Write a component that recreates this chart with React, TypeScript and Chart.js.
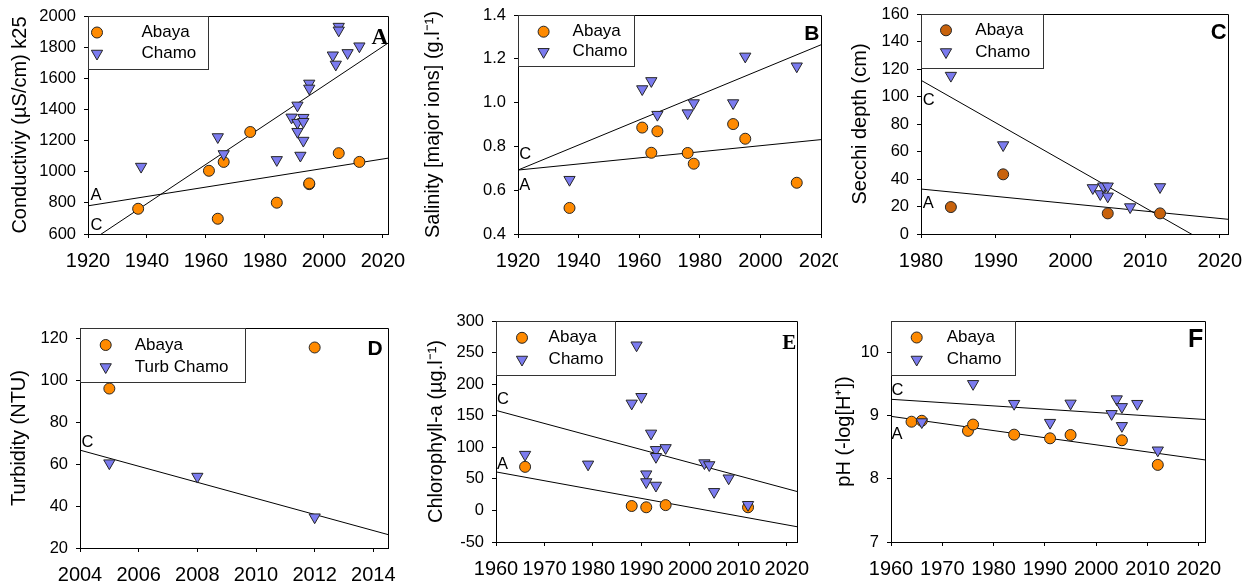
import React, { useEffect, useRef } from "react";
import { Chart, registerables } from "chart.js";

Chart.register(...registerables);

const SANS = "'Liberation Sans', Arial, Helvetica, sans-serif";
const SERIF = "'Liberation Serif', 'Times New Roman', Times, serif";
const ORANGE = "#ff8a00";
const BROWN = "#c8620c";
const LILAC = "#7b7bef";
const EDGE = "#262626";

// ---------------- data ----------------
// A: conductivity
const condAbayaYears = [1937, 1961, 1964, 1966, 1975, 1984, 1995, 1995, 2005, 2012];
const condAbayaValues = [762, 1006, 698, 1063, 1255, 801, 920, 925, 1119, 1063];
const condChamoYears = [1938, 1964, 1966, 1984, 1989, 1991, 1991, 1991, 1992, 1993, 1993, 1993, 1995, 1995, 2003, 2004, 2005, 2005, 2008, 2012];
const condChamoValues = [1033, 1223, 1114, 1076, 1349, 1426, 1315, 1257, 1104, 1347, 1321, 1200, 1567, 1535, 1748, 1689, 1932, 1908, 1763, 1806];
const condTrendAbaya = [[1920, 781], [2021.7, 1087]];
const condTrendChamo = [[1920, 543], [2021.7, 1826]];

// B: salinity
const salAbayaYears = [1937, 1961, 1964, 1966, 1976, 1978, 1991, 1995, 2012];
const salAbayaValues = [0.519, 0.886, 0.771, 0.869, 0.77, 0.721, 0.902, 0.835, 0.634];
const salChamoYears = [1937, 1961, 1964, 1966, 1976, 1978, 1991, 1995, 2012];
const salChamoValues = [0.648, 1.062, 1.099, 0.945, 0.952, 0.998, 0.998, 1.211, 1.166];
const salTrendAbaya = [[1920, 0.692], [2020, 0.831]];
const salTrendChamo = [[1920, 0.692], [2020, 1.264]];

// C: Secchi depth
const secchiAbayaYears = [1984, 1991, 2005, 2012];
const secchiAbayaValues = [19.6, 43.4, 15, 15];
const secchiChamoYears = [1984, 1991, 2003, 2004, 2004.4, 2005, 2005, 2008, 2012];
const secchiChamoValues = [115.2, 64.7, 33.5, 29.1, 34.7, 34.7, 27.4, 19.6, 34.2];
const secchiTrendAbaya = [[1980, 32.7], [2021.1, 10.7]];
const secchiTrendChamo = [[1980, 111.8], [2021.1, -15.2]];

// D: turbidity
const turbAbayaYears = [2005, 2012];
const turbAbayaValues = [96.1, 115.7];
const turbChamoYears = [2005, 2008, 2012];
const turbChamoValues = [60.5, 54.1, 34.7];
const turbTrendChamo = [[2004, 66.7], [2014.5, 26.4]];

// E: chlorophyll-a
const chlAbayaYears = [1966, 1988, 1991, 1995, 2012];
const chlAbayaValues = [69, 7, 5, 8.4, 5];
const chlChamoYears = [1966, 1979, 1988, 1989, 1990, 1991, 1991, 1992, 1993, 1993, 1993, 1995, 2003, 2004, 2005, 2008, 2012];
const chlChamoValues = [88.4, 73, 169.5, 261.6, 180, 57.4, 45, 122, 96, 85, 39.5, 99, 75, 72, 29.5, 51, 9];
const chlTrendAbaya = [[1960, 61], [2022.1, -25.8]];
const chlTrendChamo = [[1960, 158.4], [2022.1, 30]];

// F: pH
const phAbayaYears = [1964, 1966, 1975, 1976, 1984, 1991, 1995, 2005, 2012];
const phAbayaValues = [8.905, 8.92, 8.76, 8.86, 8.7, 8.642, 8.695, 8.611, 8.221];
const phChamoYears = [1966, 1976, 1984, 1991, 1995, 2003, 2004, 2005, 2005, 2008, 2012];
const phChamoValues = [8.9, 9.505, 9.19, 8.89, 9.195, 9.03, 9.263, 9.14, 8.84, 9.19, 8.453];
const phTrendAbaya = [[1960, 8.99], [2021.2, 8.3]];
const phTrendChamo = [[1960, 9.26], [2021.2, 8.94]];

// ---------------- helpers ----------------
type XY = { x: number; y: number };
const toPts = (xs: number[], ys: number[]): XY[] => xs.map((x, i) => ({ x, y: ys[i] }));
const toLine = (seg: number[][]): XY[] => seg.map(([x, y]) => ({ x, y }));

interface LegendSpec { w: number; h: number; markerDx: number; textDx: number; row1: number; row2: number; labels: [string, string] }
interface LetterSpec { text: string; serif: boolean; size: number; dxRight: number; baseline: number }
interface TagSpec { text: string; dx: number; baseline: number }
interface PanelSpec {
  canvas: [number, number, number, number];
  plot: [number, number, number, number];
  xRange: [number, number, number];
  yRange: [number, number, number];
  yDecimals: number;
  yTitle: string;
  titleCenter: number;
  abaya: XY[];
  chamo: XY[];
  trends: XY[][];
  abayaColor: string;
  legend: LegendSpec;
  letter: LetterSpec;
  tags: TagSpec[];
  bg?: string;
}

const PANELS: PanelSpec[] = [
  {
    canvas: [0, 0, 410, 290], plot: [88, 16, 388, 234],
    xRange: [1920, 2021.7, 20], yRange: [600, 2000, 200], yDecimals: 0,
    yTitle: "Conductiviy (µS/cm) k25", titleCenter: 20,
    abaya: toPts(condAbayaYears, condAbayaValues), chamo: toPts(condChamoYears, condChamoValues),
    trends: [toLine(condTrendAbaya), toLine(condTrendChamo)], abayaColor: ORANGE,
    legend: { w: 120, h: 53, markerDx: 9, textDx: 53.5, row1: 16.5, row2: 37.5, labels: ["Abaya", "Chamo"] },
    letter: { text: "A", serif: true, size: 23, dxRight: 0, baseline: 27.6 },
    tags: [{ text: "A", dx: 2.4, baseline: 184 }, { text: "C", dx: 2.4, baseline: 214 }],
  },
  {
    canvas: [400, 0, 438, 290], plot: [518, 15, 821, 234],
    xRange: [1920, 2020, 20], yRange: [0.4, 1.4, 0.2], yDecimals: 1,
    yTitle: "Salinity [major ions] (g.l⁻¹)", titleCenter: 433,
    abaya: toPts(salAbayaYears, salAbayaValues), chamo: toPts(salChamoYears, salChamoValues),
    trends: [toLine(salTrendAbaya), toLine(salTrendChamo)], abayaColor: ORANGE,
    legend: { w: 115.6, h: 51.4, markerDx: 25.6, textDx: 54.6, row1: 16.7, row2: 36.8, labels: ["Abaya", "Chamo"] },
    letter: { text: "B", serif: false, size: 21, dxRight: 1.7, baseline: 24.7 },
    tags: [{ text: "C", dx: 1.3, baseline: 144.3 }, { text: "A", dx: 1.3, baseline: 175 }],
  },
  {
    canvas: [838, 0, 418, 290], plot: [921, 14, 1228, 234],
    xRange: [1980, 2021.1, 10], yRange: [0, 160, 20], yDecimals: 0,
    yTitle: "Secchi depth (cm)", titleCenter: 860,
    abaya: toPts(secchiAbayaYears, secchiAbayaValues), chamo: toPts(secchiChamoYears, secchiChamoValues),
    trends: [toLine(secchiTrendAbaya), toLine(secchiTrendChamo)], abayaColor: BROWN,
    legend: { w: 121.7, h: 54, markerDx: 25, textDx: 54.3, row1: 16.3, row2: 38, labels: ["Abaya", "Chamo"] },
    letter: { text: "C", serif: false, size: 22, dxRight: 1.3, baseline: 25 },
    tags: [{ text: "C", dx: 1.7, baseline: 91 }, { text: "A", dx: 1.7, baseline: 194 }],
    bg: "#ffffff",
  },
  {
    canvas: [0, 290, 410, 293], plot: [80, 328, 388, 548],
    xRange: [2004, 2014.5, 2], yRange: [20, 125, 20], yDecimals: 0,
    yTitle: "Turbidity (NTU)", titleCenter: 19.5,
    abaya: toPts(turbAbayaYears, turbAbayaValues), chamo: toPts(turbChamoYears, turbChamoValues),
    trends: [toLine(turbTrendChamo)], abayaColor: ORANGE,
    legend: { w: 164.7, h: 53.7, markerDx: 25.7, textDx: 54.7, row1: 17, row2: 39, labels: ["Abaya", "Turb Chamo"] },
    letter: { text: "D", serif: false, size: 21, dxRight: 5.3, baseline: 26.7 },
    tags: [{ text: "C", dx: 1.4, baseline: 118.7 }],
  },
  {
    canvas: [400, 290, 430, 293], plot: [496, 321, 797, 542],
    xRange: [1960, 2022.1, 10], yRange: [-50, 300, 50], yDecimals: 0,
    yTitle: "Chlorophyll-a (µg.l⁻¹)", titleCenter: 436.5,
    abaya: toPts(chlAbayaYears, chlAbayaValues), chamo: toPts(chlChamoYears, chlChamoValues),
    trends: [toLine(chlTrendAbaya), toLine(chlTrendChamo)], abayaColor: ORANGE,
    legend: { w: 119.3, h: 53.6, markerDx: 26, textDx: 52.6, row1: 16.8, row2: 38.5, labels: ["Abaya", "Chamo"] },
    letter: { text: "E", serif: true, size: 21, dxRight: 0.7, baseline: 27.6 },
    tags: [{ text: "C", dx: 1, baseline: 83.3 }, { text: "A", dx: 1, baseline: 148.3 }],
  },
  {
    canvas: [830, 290, 426, 293], plot: [891, 321, 1205, 542],
    xRange: [1960, 2021.2, 10], yRange: [7, 10.5, 1], yDecimals: 0,
    yTitle: "pH (-log[H⁺])", titleCenter: 844,
    abaya: toPts(phAbayaYears, phAbayaValues), chamo: toPts(phChamoYears, phChamoValues),
    trends: [toLine(phTrendAbaya), toLine(phTrendChamo)], abayaColor: ORANGE,
    legend: { w: 124, h: 54.3, markerDx: 25.7, textDx: 55.7, row1: 16.5, row2: 38.5, labels: ["Abaya", "Chamo"] },
    letter: { text: "F", serif: false, size: 25, dxRight: 1.7, baseline: 25.8 },
    tags: [{ text: "C", dx: 0.5, baseline: 74 }, { text: "A", dx: 0.5, baseline: 118 }],
  },
];

const al = (p: number) => Math.round(p - 0.5) + 0.5;

function drawCircle(ctx: CanvasRenderingContext2D, x: number, y: number, r: number, fill: string) {
  ctx.beginPath();
  ctx.arc(x, y, r, 0, Math.PI * 2);
  ctx.fillStyle = fill;
  ctx.fill();
  ctx.lineWidth = 1;
  ctx.strokeStyle = EDGE;
  ctx.stroke();
}

function drawTriangleDown(ctx: CanvasRenderingContext2D, x: number, y: number, r: number, fill: string) {
  let rad = Math.PI;
  ctx.beginPath();
  for (let i = 0; i < 3; i++) {
    const px = x + Math.sin(rad) * r;
    const py = y - Math.cos(rad) * r;
    if (i === 0) ctx.moveTo(px, py);
    else ctx.lineTo(px, py);
    rad += (2 * Math.PI) / 3;
  }
  ctx.closePath();
  ctx.fillStyle = fill;
  ctx.fill();
  ctx.lineWidth = 1;
  ctx.strokeStyle = EDGE;
  ctx.stroke();
}

function Panel({ spec }: { spec: PanelSpec }) {
  const ref = useRef<HTMLCanvasElement>(null);
  useEffect(() => {
    const canvas = ref.current;
    if (!canvas) return;
    const [cl, ct, cw, ch] = spec.canvas;
    const [pl, pt, pr, pb] = spec.plot;
    const left = pl - cl;
    const top = pt - ct;
    const right = pr - cl;
    const bottom = pb - ct;

    const decor = {
      id: "decor",
      afterDraw(chart: any) {
        const ctx: CanvasRenderingContext2D = chart.ctx;
        const a = chart.chartArea;
        ctx.save();
        // frame top + right
        ctx.strokeStyle = "#000";
        ctx.lineWidth = 1;
        ctx.beginPath();
        ctx.moveTo(al(a.left), al(a.top));
        ctx.lineTo(al(a.right), al(a.top));
        ctx.lineTo(al(a.right), al(a.bottom));
        ctx.stroke();

        // trend labels
        ctx.fillStyle = "#000";
        ctx.font = `16.5px ${SANS}`;
        ctx.textAlign = "left";
        ctx.textBaseline = "alphabetic";
        for (const t of spec.tags) ctx.fillText(t.text, a.left + t.dx, a.top + t.baseline);

        // panel letter
        const L2 = spec.letter;
        ctx.font = `bold ${L2.size}px ${L2.serif ? SERIF : SANS}`;
        ctx.textAlign = "right";
        ctx.fillText(L2.text, a.right - L2.dxRight, a.top + L2.baseline);

        // legend
        const L = spec.legend;
        ctx.fillStyle = "#fff";
        ctx.fillRect(a.left, a.top, L.w, L.h);
        ctx.strokeStyle = "#333";
        ctx.lineWidth = 1;
        ctx.strokeRect(al(a.left), al(a.top), Math.round(L.w), Math.round(L.h));
        drawCircle(ctx, a.left + L.markerDx, a.top + L.row1, 5.5, spec.abayaColor);
        drawTriangleDown(ctx, a.left + L.markerDx, a.top + L.row2, 6.5, LILAC);
        ctx.fillStyle = "#000";
        ctx.font = `17px ${SANS}`;
        ctx.textAlign = "left";
        ctx.textBaseline = "middle";
        ctx.fillText(L.labels[0], a.left + L.textDx, a.top + L.row1);
        ctx.fillText(L.labels[1], a.left + L.textDx, a.top + L.row2);
        ctx.restore();
      },
    };

    const gridOpts = { display: true, drawOnChartArea: false, drawTicks: true, tickLength: 4, color: "#000", lineWidth: 1 };
    const borderOpts = { display: true, color: "#000", width: 1 };

    const chart = new Chart(canvas, {
      type: "scatter",
      data: {
        datasets: [
          ...spec.trends.map((t) => ({
            data: t,
            showLine: true,
            borderColor: "#000",
            borderWidth: 1,
            pointRadius: 0,
            pointHoverRadius: 0,
            fill: false,
            tension: 0,
            order: 3,
          })),
          {
            data: spec.abaya,
            pointStyle: "circle",
            pointRadius: 5.5,
            pointBackgroundColor: spec.abayaColor,
            pointBorderColor: EDGE,
            pointBorderWidth: 1,
            backgroundColor: spec.abayaColor,
            borderColor: EDGE,
            order: 2,
          },
          {
            data: spec.chamo,
            pointStyle: "triangle",
            pointRotation: 180,
            pointRadius: 6.5,
            pointBackgroundColor: LILAC,
            pointBorderColor: EDGE,
            pointBorderWidth: 1,
            backgroundColor: LILAC,
            borderColor: EDGE,
            order: 1,
          },
        ] as any,
      },
      options: {
        responsive: false,
        animation: false,
        events: [],
        layout: { padding: { left: 0, top, right: cw - right, bottom: 0 } },
        plugins: { legend: { display: false }, tooltip: { enabled: false } },
        scales: {
          x: {
            type: "linear",
            position: "bottom",
            min: spec.xRange[0],
            max: spec.xRange[1],
            afterFit: (s: any) => {
              s.height = ch - bottom;
              s.paddingLeft = 0;
              s.paddingRight = 0;
            },
            ticks: {
              stepSize: spec.xRange[2],
              includeBounds: false,
              autoSkip: false,
              maxRotation: 0,
              minRotation: 0,
              padding: 11,
              color: "#000",
              font: { family: SANS, size: 20 },
              callback: (v: any) => String(v),
            },
            grid: gridOpts,
            border: borderOpts,
          },
          y: {
            type: "linear",
            position: "left",
            min: spec.yRange[0],
            max: spec.yRange[1],
            afterFit: (s: any) => {
              s.width = left;
              s.paddingTop = 0;
              s.paddingBottom = 0;
            },
            ticks: {
              stepSize: spec.yRange[2],
              includeBounds: false,
              autoSkip: false,
              padding: 8,
              color: "#000",
              font: { family: SANS, size: 16.5 },
              callback: (v: any) => Number(v).toFixed(spec.yDecimals),
            },
            grid: gridOpts,
            border: borderOpts,
            title: {
              display: true,
              text: spec.yTitle,
              color: "#000",
              font: { family: SANS, size: 20 },
              padding: { top: spec.titleCenter - cl - 12, bottom: 0 },
            },
          },
        },
      } as any,
      plugins: [decor],
    });
    return () => chart.destroy();
  }, [spec]);

  const [cl, ct, cw, ch] = spec.canvas;
  return (
    <canvas
      ref={ref}
      width={cw}
      height={ch}
      style={{ position: "absolute", left: cl, top: ct, width: cw, height: ch, background: spec.bg || "transparent" }}
    />
  );
}

export default function App() {
  return (
    <div style={{ position: "fixed", left: 0, top: 0, width: 1256, height: 583, overflow: "hidden", background: "#fff" }}>
      {PANELS.map((p, i) => (
        <Panel key={i} spec={p} />
      ))}
    </div>
  );
}
